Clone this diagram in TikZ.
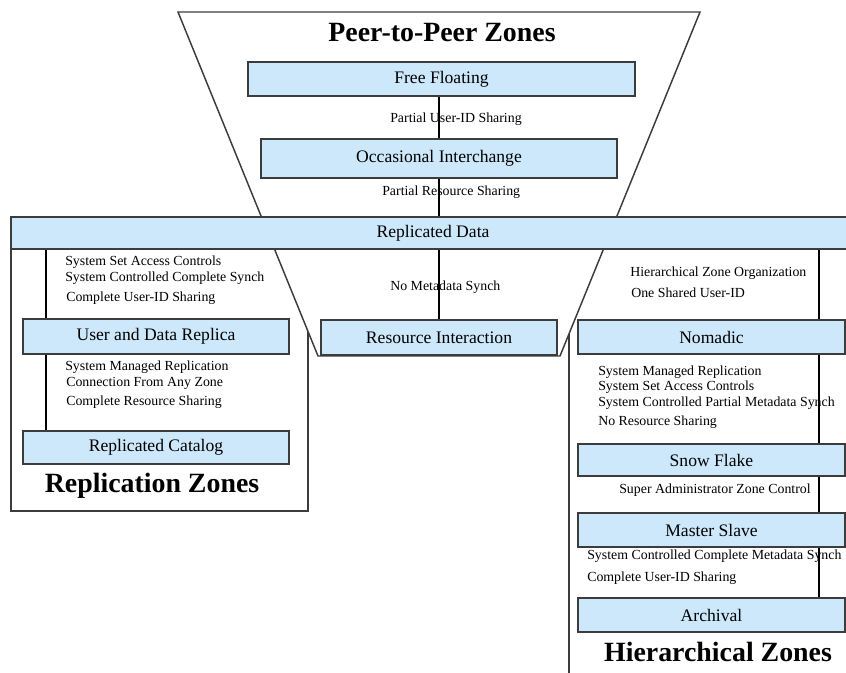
\documentclass[tikz,border=0pt]{standalone}
\usepackage{fontspec}
\setmainfont{Liberation Serif}
\usetikzlibrary{fit}
\definecolor{boxfill}{RGB}{204,232,250}
\definecolor{edge}{RGB}{60,60,60}
\begin{document}
\begin{tikzpicture}[x=0.75pt,y=-0.75pt,
  zonebox/.style={draw=edge,line width=0.9pt,fill=boxfill,inner sep=0pt},
  boxtext/.style={inner sep=0pt,font=\fontsize{13.2}{15}\selectfont},
  note/.style={anchor=west,inner sep=0pt,font=\fontsize{10.4}{12}\selectfont},
  title/.style={inner sep=0pt,font=\fontsize{20.9}{24}\selectfont\bfseries},
  link/.style={draw=black,line width=0.8pt},
  frame/.style={draw=edge,line width=0.9pt}]
\useasboundingbox (0,0) rectangle (846,673);
\clip (0,0) rectangle (846,673);

% zone frames
\draw[frame] (11,249) rectangle (308,511);
\draw[frame] (569,700) -- (569,249) -- (900,249);
\draw[frame,fill=white,line width=1.1pt] (178,12) -- (700,12) -- (560,356) -- (318,356) -- cycle;

% peer-to-peer zones
\node[title] (tp) at (442,33) {Peer-to-Peer Zones};
\node[zonebox,fit={(248,62) (635,96)},label={[boxtext]center:Free Floating}] (ff) {};
\node[zonebox,fit={(261,139) (617,178)},label={[boxtext]center:Occasional Interchange}] (oi) {};
\node[zonebox,fit={(11,217) (855,249)},label={[boxtext]center:Replicated Data}] (rd) {};
\node[zonebox,fit={(321,320) (557,355)},label={[boxtext]center:Resource Interaction}] (ri) {};

% replication zones
\node[zonebox,fit={(23,319) (289,354)},label={[boxtext]center:User and Data Replica}] (ud) {};
\node[zonebox,fit={(23,431) (289,464)},label={[boxtext]center:Replicated Catalog}] (rc) {};
\node[title] (tr) at (152,486) {Replication Zones};

% hierarchical zones
\node[zonebox,fit={(578,320) (845,354)},label={[boxtext]center:Nomadic}] (nm) {};
\node[zonebox,fit={(578,444) (845,476)},label={[boxtext]center:Snow Flake}] (sf) {};
\node[zonebox,fit={(578,513) (845,547)},label={[boxtext]center:Master Slave}] (ms) {};
\node[zonebox,fit={(578,598) (845,632)},label={[boxtext]center:Archival}] (ar) {};
\node[title] (th) at (718,652) {Hierarchical Zones};

% connector columns
\coordinate (cp) at (439,0);
\coordinate (cl) at (46,0);
\coordinate (cr) at (819,0);
\draw[link] (ff.south -| cp) -- (oi.north -| cp);
\draw[link] (oi.south -| cp) -- (rd.north -| cp);
\draw[link] (rd.south -| cp) -- (ri.north -| cp);
\draw[link] (rd.south -| cl) -- (ud.north -| cl);
\draw[link] (ud.south -| cl) -- (rc.north -| cl);
\draw[link] (rd.south -| cr) -- (nm.north -| cr);
\draw[link] (nm.south -| cr) -- (sf.north -| cr);
\draw[link] (sf.south -| cr) -- (ms.north -| cr);
\draw[link] (ms.south -| cr) -- (ar.north -| cr);

% connector labels
\node[note] (n1) at (390,119) {Partial User-ID Sharing};
\node[note] (n2) at (382,192) {Partial Resource Sharing};
\node[note] (n3) at (390,287) {No Metadata Synch};

\node[note] (l1) at (65,262) {System Set Access Controls};
\node[note] (l2) at (65,278) {System Controlled Complete Synch};
\node[note] (l3) at (66,298) {Complete User-ID Sharing};
\node[note] (l4) at (65,367) {System Managed Replication};
\node[note] (l5) at (66,383) {Connection From Any Zone};
\node[note] (l6) at (66,402) {Complete Resource Sharing};

\node[note] (r1) at (630,273) {Hierarchical Zone Organization};
\node[note] (r2) at (631,293) {One Shared User-ID};
\node[note] (r3) at (598,372) {System Managed Replication};
\node[note] (r4) at (598,387) {System Set Access Controls};
\node[note] (r5) at (598,403) {System Controlled Partial Metadata Synch};
\node[note] (r6) at (598,422) {No Resource Sharing};
\node[note] (r7) at (619,490) {Super Administrator Zone Control};
\node[note] (r8) at (587,556) {System Controlled Complete Metadata Synch};
\node[note] (r9) at (587,578) {Complete User-ID Sharing};
\end{tikzpicture}
\end{document}
